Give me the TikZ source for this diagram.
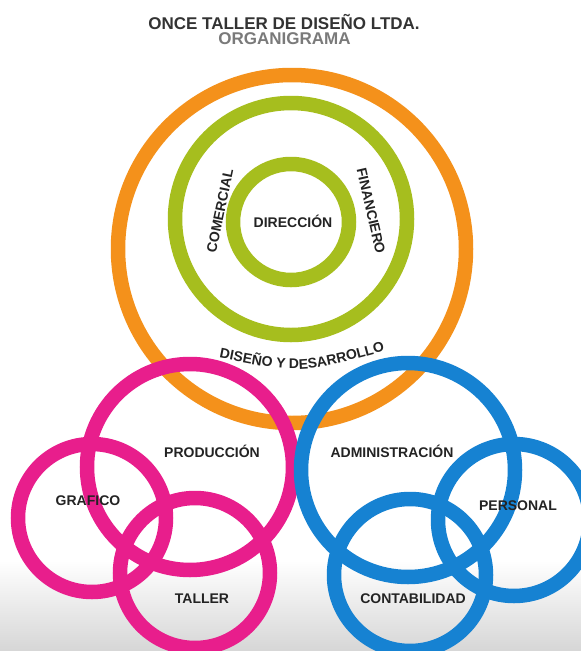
\documentclass[tikz,border=0pt]{standalone}
\usepackage{fontspec}
\setmainfont{Liberation Sans}
\usetikzlibrary{decorations.text}
\definecolor{ringorange}{RGB}{244,145,27}
\definecolor{ringgreen}{RGB}{166,190,30}
\definecolor{ringpink}{RGB}{232,30,140}
\definecolor{ringblue}{RGB}{22,130,210}
\definecolor{txtdark}{RGB}{35,35,35}
\tikzset{
	ring/.style 2 args={circle,draw=#1,line width=14.5pt,minimum size=#2,inner sep=0pt},
	lbl/.style={font=\bfseries\fontsize{14}{14}\selectfont,text=txtdark,inner sep=1pt},
	ttl/.style={font=\bfseries\fontsize{17}{17}\selectfont,inner sep=1pt}
}
\begin{document}
\begin{tikzpicture}[x=1pt,y=-1pt]
	\useasboundingbox (0,0) rectangle (581,651);
	\fill[white] (0,0) rectangle (581,651);
	\shade[top color=white,bottom color=black!16] (0,560) rectangle (581,651);

	% titulo
	\node [ttl,text=black!80] (title) at (284,22) {ONCE TALLER DE DISEÑO LTDA.};
	\node [ttl,text=black!52] (subtitle) at (284.5,39) {ORGANIGRAMA};

	% anillos
	\node [ring={ringorange}{348pt}] (dd) at (292,249) {};
	\node [ring={ringgreen}{232pt}] (area) at (291,219) {};
	\node [ring={ringgreen}{116pt}] (dir) at (291,222) {};

	\node [ring={ringpink}{206pt}] (prod) at (190,467) {};
	\node [ring={ringpink}{148pt}] (graf) at (92,518) {};
	\node [ring={ringpink}{150pt}] (tall) at (195,573) {};

	\node [ring={ringblue}{214pt}] (admin) at (408,470) {};
	\node [ring={ringblue}{152pt}] (pers) at (514,520) {};
	\node [ring={ringblue}{152pt}] (cont) at (410,575) {};

	% textos
	\node [lbl] (dirlbl) at (293,221) {DIRECCIÓN};
	\node [lbl,rotate=78] (comlbl) at (220,211) {COMERCIAL};
	\node [lbl,rotate=-77] (finlbl) at (371,211) {FINANCIERO};
	\path [decorate,decoration={text along path,text align=center,
		text={|\bfseries\fontsize{14}{14}\selectfont\color{txtdark}|DISEÑO Y DESARROLLO}}]
		(215,357) .. controls (300,374) .. (389,350);

	\node [lbl] (prodlbl) at (212,451) {PRODUCCIÓN};
	\node [lbl] (graflbl) at (88,501) {GRAFICO};
	\node [lbl] (talllbl) at (202,599) {TALLER};
	\node [lbl] (adminlbl) at (392,451) {ADMINISTRACIÓN};
	\node [lbl] (perslbl) at (518,506) {PERSONAL};
	\node [lbl] (contlbl) at (413,599) {CONTABILIDAD};
\end{tikzpicture}
\end{document}
